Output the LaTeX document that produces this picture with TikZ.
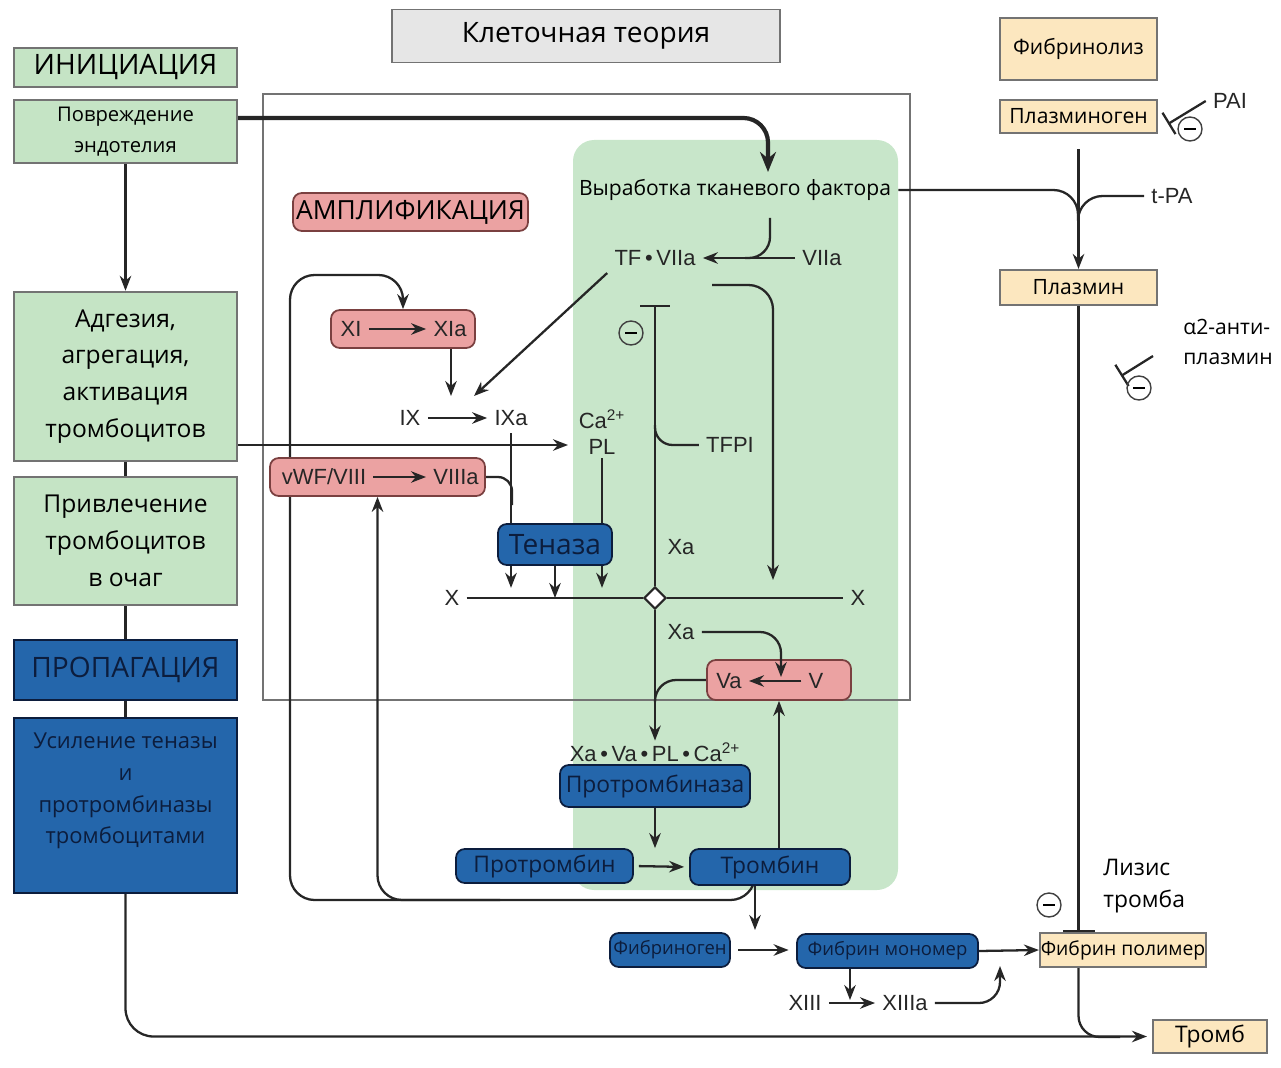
\documentclass[tikz,border=0pt]{standalone}
\usepackage{fontspec}
\setmainfont{Open Sans}
\newfontfamily\helv{Liberation Sans}
\usetikzlibrary{arrows.meta,shapes.geometric}

\definecolor{initgreen}{HTML}{C5E4C5}
\definecolor{zonegreen}{HTML}{C8E6CA}
\definecolor{amppink}{HTML}{EBA2A2}
\definecolor{ampedge}{HTML}{7A4040}
\definecolor{propblue}{HTML}{2466AB}
\definecolor{navytext}{HTML}{0C1D3D}
\definecolor{lysiscream}{HTML}{FCE7BF}
\definecolor{titlegray}{HTML}{E6E6E6}

\pgfdeclarelayer{back}
\pgfdeclarelayer{wires}
\pgfsetlayers{back,wires,main}

\newcommand{\minussign}{\rule{2.4mm}{0.8pt}}

\tikzset{
  stage/.style={draw=black!55, fill=initgreen, line width=1.4pt, align=center, inner sep=0pt, minimum width=44.6mm},
  ampbox/.style={draw=ampedge, fill=amppink, rounded corners=5pt, line width=1pt, inner sep=0pt},
  propbox/.style={draw=navytext, fill=propblue, text=navytext, rounded corners=5pt, line width=1pt, inner sep=0pt, align=center},
  lysbox/.style={draw=black!55, fill=lysiscream, line width=1.2pt, inner sep=0pt, font=\fontsize{12}{14}\selectfont},
  factor/.style={font=\helv\fontsize{12.5}{15}\selectfont, text=black!85, inner sep=4pt},
  note/.style={font=\fontsize{12}{15}\selectfont, inner sep=4pt},
  link/.style={line width=1.3pt, draw=black!85},
  flow/.style={link, -{Stealth[length=3mm,width=2.3mm]}},
  inhib/.style={link, -{Bar[width=5mm]}},
  minus/.style={circle, draw=black!75, line width=0.8pt, minimum size=4.8mm, inner sep=0pt},
}

\begin{document}
\begin{tikzpicture}[x=0.2mm, y=-0.2mm]
    \useasboundingbox (0,0) rectangle (1281,1067);

    % Green zone and the amplification frame
    \begin{pgfonlayer}{back}
        \fill[zonegreen, rounded corners=12pt] (573,140) rectangle (898,890);
        \draw[black!55, line width=0.8pt] (263,94) rectangle (910,700);
    \end{pgfonlayer}

    % Title
    \node[draw=black!55, fill=titlegray, line width=1pt, minimum width=77.6mm, minimum height=10.6mm, font=\fontsize{16}{19}\selectfont] (title) at (586,36) {Клеточная теория};

    % Stage boxes on the left
    \node[stage, minimum height=7.8mm, font=\fontsize{16}{19}\selectfont] (init) at (125.5,67.5) {ИНИЦИАЦИЯ};
    \node[stage, minimum height=12.6mm, font=\fontsize{11.5}{18}\selectfont] (injury) at (125.5,131.5) {Повреждение\\эндотелия};
    \node[stage, minimum height=33.8mm, font=\fontsize{14}{21}\selectfont] (adhesion) at (125.5,376.5) {Адгезия,\\агрегация,\\активация\\тромбоцитов};
    \node[stage, minimum height=25.6mm, font=\fontsize{14}{21}\selectfont] (recruit) at (125.5,541) {Привлечение\\тромбоцитов\\в очаг};
    \node[propbox, sharp corners, line width=1.4pt, minimum width=44.6mm, minimum height=12mm, font=\fontsize{16}{19}\selectfont] (propag) at (125.5,670) {ПРОПАГАЦИЯ};
    \node[propbox, sharp corners, line width=1.4pt, minimum width=44.6mm, minimum height=35mm] (boost) at (125.5,805.5) {};
    \node[text=navytext, align=center, font=\fontsize{12.5}{18}\selectfont] (boosttext) at (125.5,791) {Усиление теназы\\и\\протромбиназы\\тромбоцитами};

    % Fibrinolysis column
    \node[lysbox, minimum width=31.4mm, minimum height=12.4mm] (fibrinolysis) at (1078.5,49) {Фибринолиз};
    \node[lysbox, minimum width=31.4mm, minimum height=6.6mm] (plasminogen) at (1078.5,116.5) {Плазминоген};
    \node[lysbox, minimum width=31.4mm, minimum height=7mm] (plasmin) at (1078.5,287.5) {Плазмин};
    \node[lysbox, minimum width=33.2mm, minimum height=6.8mm, font=\fontsize{11}{13}\selectfont] (polymer) at (1123,950) {Фибрин полимер};
    \node[lysbox, minimum width=22.8mm, minimum height=6.6mm, font=\fontsize{13}{15}\selectfont] (clot) at (1210,1036.5) {Тромб};

    % Amplification boxes
    \node[ampbox, minimum width=47mm, minimum height=7.6mm, font=\fontsize{15}{18}\selectfont] (amp) at (410.5,212) {АМПЛИФИКАЦИЯ};
    \node[ampbox, minimum width=28.8mm, minimum height=7.6mm] (xibox) at (403,329) {};
    \node[ampbox, minimum width=43mm, minimum height=7.6mm] (vwfbox) at (377.5,477) {};
    \node[ampbox, minimum width=28.8mm, minimum height=8mm] (vabox) at (779,680) {};

    % Complexes
    \node[propbox, minimum width=22.8mm, minimum height=8.2mm, font=\fontsize{16}{19}\selectfont] (tenase) at (555,544.5) {Теназа};
    \node[propbox, minimum width=38mm, minimum height=8.4mm, font=\fontsize{13}{15}\selectfont] (prothrombinase) at (655,786) {Протромбиназа};
    \node[propbox, minimum width=35.4mm, minimum height=6.8mm, font=\fontsize{13}{15}\selectfont] (prothrombin) at (544.5,866) {Протромбин};
    \node[propbox, minimum width=32mm, minimum height=7.2mm, font=\fontsize{13}{15}\selectfont] (thrombin) at (770,867) {Тромбин};
    \node[propbox, minimum width=24mm, minimum height=6.8mm, font=\fontsize{10.5}{12}\selectfont] (fibrinogen) at (670,950) {Фибриноген};
    \node[propbox, minimum width=36.2mm, minimum height=6.8mm, font=\fontsize{10.5}{12}\selectfont] (monomer) at (887.5,951) {Фибрин мономер};

    % Factor labels
    \node[note] (tfprod) at (735,190) {Выработка тканевого фактора};
    \node[factor] (tf) at (655,258) {TF\,•\,VIIa};
    \node[factor] (viia) at (822,258) {VIIa};
    \node[factor] (xi) at (351,329) {XI};
    \node[factor] (xia) at (450,329) {XIa};
    \node[factor] (ix) at (410,418) {IX};
    \node[factor] (ixa) at (511,418) {IXa};
    \node[factor, align=center, inner sep=2pt] (capl) at (602,432) {Ca\textsuperscript{2+}\\PL};
    \node[factor] (tfpi) at (730,445) {TFPI};
    \node[factor] (vwf) at (324,477) {vWF/VIII};
    \node[factor] (viiia) at (456,477) {VIIIa};
    \node[factor] (xleft) at (452,598) {X};
    \node[factor] (xright) at (858,598) {X};
    \node[factor] (xa1) at (681,547) {Xa};
    \node[factor] (xa2) at (681,632) {Xa};
    \node[factor] (va) at (729,681) {Va};
    \node[factor] (v) at (816,681) {V};
    \node[factor, inner sep=1pt] (complex) at (655,752) {Xa\,•\,Va\,•\,PL\,•\,Ca\textsuperscript{2+}};
    \node[factor] (xiii) at (805,1003) {XIII};
    \node[factor] (xiiia) at (905,1003) {XIIIa};
    \node[factor] (tpa) at (1172,196) {t-PA};
    \node[factor] (pai) at (1230,101) {PAI};
    \node[note, align=left, anchor=west, font=\fontsize{13}{18}\selectfont] (lysis) at (1096,886) {Лизис\\тромба};
    \node[note, align=left, anchor=west, font=\fontsize{12}{17.5}\selectfont] (antiplasmin) at (1176,342) {α2-анти-\\плазмин};

    % Diamond on the X line and the inhibition signs
    \node[diamond, draw=black!85, fill=white, line width=1.2pt, minimum size=4.4mm, inner sep=0pt] (xjoin) at (655,598) {};
    \node[minus] (paiminus) at (1190,129) {\minussign};
    \node[minus] (tfminus) at (631,333) {\minussign};
    \node[minus] (apminus) at (1139,388) {\minussign};
    \node[minus] (lysminus) at (1049,905) {\minussign};

    % Bends and merge points
    \coordinate (injbend) at (768,118);
    \coordinate (tfdrop) at (770,218);
    \coordinate (viiamerge) at (745,258);
    \coordinate (tfout) at (712,285);
    \coordinate (tfdown) at (773,580);
    \coordinate (tfpibar) at (655,305);
    \coordinate (tfpijoin) at (655,425);
    \coordinate (ixtip) at (474,396);
    \coordinate (ixin) at (451,396);
    \coordinate (plin) at (568,445);
    \coordinate (viiijoin) at (512,505);
    \coordinate (vajoin) at (655,702);
    \coordinate (vmid) at (781,677);
    \coordinate (loopbase) at (755,900);
    \coordinate (loopmid) at (500,900);
    \coordinate (fibjoin) at (755,930);
    \coordinate (xiiimid) at (850,1000);
    \coordinate (polyin) at (1000,966);
    \coordinate (clotin) at (1120,1037);
    \coordinate (plasjoin) at (1078,216);
    \coordinate (paitip) at (1168,124);
    \coordinate (apstart) at (1153,356);
    \coordinate (aptip) at (1121,376);

    \begin{pgfonlayer}{wires}
        % Initiation column
        \draw[flow] (injury) -- (adhesion);
        \draw[link] (adhesion) -- (recruit);
        \draw[link] (recruit) -- (propag);
        \draw[link] (propag) -- (boost);
        \draw[flow, rounded corners=16pt, shorten >=1mm] (boost.south) |- (clot.west);
        \draw[link, line width=2.4pt, -{Stealth[length=4mm,width=3.2mm]}, rounded corners=14pt] (injury.east |- injbend) -- (injbend) -- (injbend |- tfprod.north);
        \draw[flow] (adhesion.east |- plin) -- (plin);

        % Tissue factor branch
        \draw[link, rounded corners=12pt] (tfdrop) |- (viiamerge);
        \draw[flow] (viia.west) -- (tf.east);
        \draw[flow] (tf.south west) -- (ixtip);
        \draw[flow, rounded corners=14pt] (tfout) -| (tfdown);
        \draw[link, {Bar[width=6mm]}-] (tfpibar) -- (xjoin.north);
        \draw[link, rounded corners=10pt] (tfpi.west) -| (tfpijoin);
        \draw[link] (xleft.east) -- (xjoin.west);
        \draw[link] (xjoin.east) -- (xright.west);
        \draw[flow] (xjoin.south) -- (complex.north);

        % Tenase
        \draw[flow] (ixin |- xibox.south) -- (ixin);
        \draw[flow] (ix.east) -- (ixa.west);
        \draw[link] (ixa.south) -- (ixa.south |- tenase.north);
        \draw[link, rounded corners=8pt] (vwfbox.east) -| (viiijoin);
        \draw[link] (capl.south) -- (capl.south |- tenase.north);
        \draw[flow] (ixa.south |- tenase.south) -- ++(0,22);
        \draw[flow] (tenase.south) -- (tenase.south |- xjoin);
        \draw[flow] (capl.south |- tenase.south) -- ++(0,22);

        % Thrombin feedback
        \draw[flow] (thrombin.south -| fibjoin) -- (fibjoin);
        \draw[flow, rounded corners=14pt] (thrombin.south -| loopbase) |- (290,900) -- (290,275) -| (xibox.north);
        \draw[flow, rounded corners=14pt] (loopmid) -| (vwfbox.south);
        \draw[link, rounded corners=12pt] (vabox.west) -| (vajoin);
        \draw[flow] (vabox.south |- thrombin.north) -- (vabox.south);
        \draw[flow] (prothrombinase.south) -- (prothrombinase.south |- thrombin.north);
        \draw[flow, shorten <=1mm, shorten >=1mm] (prothrombin.east) -- (thrombin.west);

        % Fibrin
        \draw[flow, shorten <=1.5mm, shorten >=1.5mm] (fibrinogen.east) -- (fibrinogen.east -| monomer.west);
        \draw[flow] (monomer.east) -- (polymer.west);
        \draw[flow] (monomer.south -| xiiimid) -- (xiiimid);
        \draw[flow] (xiii.east) -- (xiiia.west);
        \draw[flow, rounded corners=12pt] (xiiia.east) -| (polyin);
        \draw[link, rounded corners=12pt] (polymer.south -| plasmin) |- (clotin);

        % Fibrinolysis
        \draw[flow, shorten <=3mm] (plasminogen) -- (plasmin);
        \draw[link, rounded corners=14pt] (tfprod.east) -| (plasjoin);
        \draw[link, rounded corners=14pt] (tpa.west) -| (plasjoin);
        \draw[link, -{Bar[width=6.4mm]}] (plasmin.south) -- (plasmin.south |- polymer.north);
        \draw[inhib] (pai.west) -- (paitip);
        \draw[inhib] (apstart) -- (aptip);
    \end{pgfonlayer}

    % Arrows inside the pink boxes
    \draw[flow] (xi.east) -- (xia.west);
    \draw[flow] (vwf.east) -- (viiia.west);
    \draw[flow] (v.west) -- (va.east);
    \draw[flow, rounded corners=12pt] (xa2.east) -| (vmid);
\end{tikzpicture}
\end{document}
